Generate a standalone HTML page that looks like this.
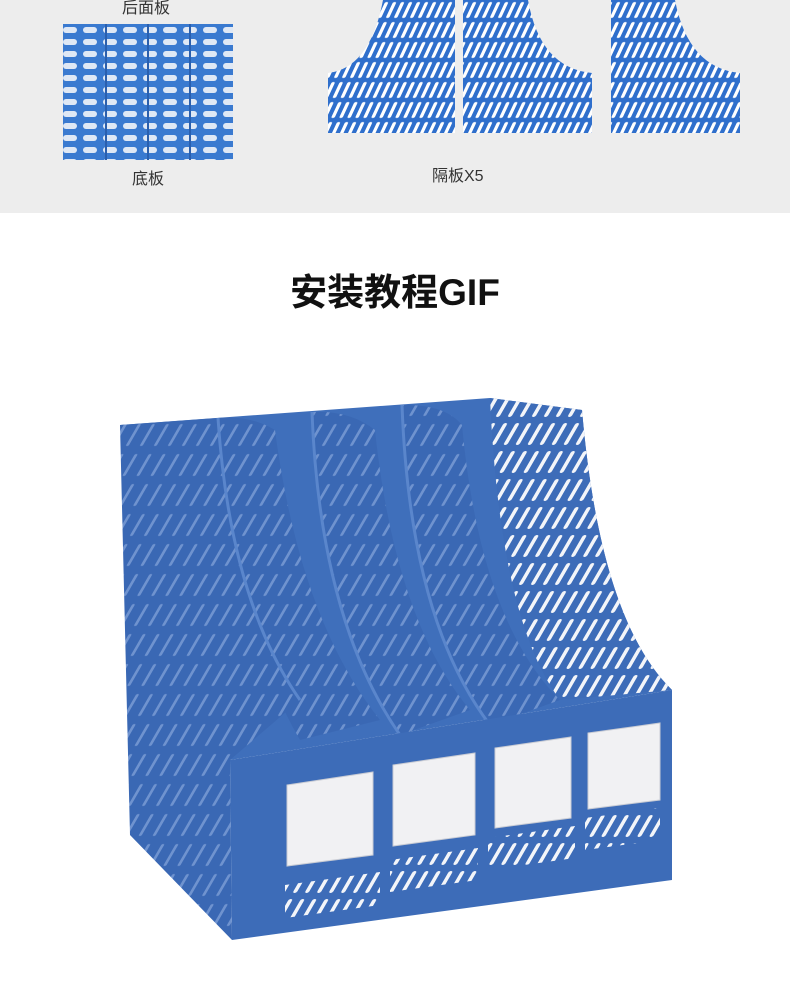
<!DOCTYPE html>
<html><head><meta charset="utf-8"><style>
body{margin:0;width:790px;height:988px;overflow:hidden;background:#fff;font-family:"Liberation Sans","Noto Sans CJK SC",sans-serif;position:relative}
.top{position:absolute;left:0;top:0;width:790px;height:213px;background:#ededed}
.lbl{position:absolute;font-size:16px;color:#333}
h1{position:absolute;left:0;width:790px;top:262px;margin:0;text-align:center;font-size:37px;font-weight:700;color:#111}
svg{position:absolute;left:0;top:0}
</style></head><body>
<div class="top"></div>
<svg width="790" height="988">
<defs>
<pattern id="sl" width="8" height="20" patternUnits="userSpaceOnUse" patternTransform="skewX(-25)">
<rect width="8" height="20" fill="#2f6fcc"/><rect x="2" y="2" width="3.5" height="16" rx="1.7" fill="#fff"/></pattern>
<pattern id="ov" width="20" height="12" patternUnits="userSpaceOnUse">
<rect width="20" height="12" fill="#3a7ad0"/><rect x="3" y="3" width="14" height="6" rx="3" fill="#dfe8f5"/></pattern>
<pattern id="bs" width="12" height="28" patternUnits="userSpaceOnUse" patternTransform="skewX(-30)">
<rect width="12" height="28" fill="#3d6cb8"/><rect x="4" y="3" width="4" height="22" rx="2" fill="#f3f5f9"/></pattern>
<pattern id="bs2" width="14" height="30" patternUnits="userSpaceOnUse" patternTransform="skewX(-30)">
<rect width="14" height="30" fill="#3a68b4"/><rect x="5" y="4" width="3" height="22" rx="1.5" fill="#6f93cf"/></pattern>
</defs>
<rect x="63" y="24" width="170" height="136" fill="url(#ov)"/>
<g stroke="#2a5fae" stroke-width="2"><line x1="106" y1="24" x2="106" y2="160"/><line x1="148" y1="24" x2="148" y2="160"/><line x1="190" y1="24" x2="190" y2="160"/></g>
<path d="M383 0 L455 0 L455 133 L328 133 L328 73 Q370 68 383 0Z" fill="url(#sl)"/>
<path d="M463 0 L528 0 Q540 68 592 73 L592 133 L463 133Z" fill="url(#sl)"/>
<path d="M611 0 L675 0 Q688 68 740 73 L740 133 L611 133Z" fill="url(#sl)"/>
<!-- organizer -->
<path d="M120 425 L490 398 L582 410 Q600 620 672 690 L230 760 Z" fill="#3f6fbb"/>
<path d="M490 398 L582 410 Q600 620 672 690 L560 700 Q500 620 490 398Z" fill="url(#bs)"/>
<path d="M120 425 L218 418 Q230 600 300 700 L230 760 L232 940 L130 835Z" fill="url(#bs2)"/>
<path d="M218 418 Q250 415 275 430 Q300 620 380 720 L300 740 Q230 620 218 418Z" fill="url(#bs2)"/>
<path d="M312 412 Q350 410 375 430 Q395 620 470 710 L400 735 Q320 620 312 412Z" fill="url(#bs2)"/>
<path d="M402 405 Q445 404 462 425 Q480 620 560 700 L490 725 Q410 620 402 405Z" fill="url(#bs2)"/>
<g stroke="#5a86cc" stroke-width="3" fill="none">
<path d="M218 418 Q230 600 300 700"/><path d="M312 412 Q320 620 400 735"/><path d="M402 405 Q410 620 490 725"/></g>
<path d="M230 760 L672 690 L672 880 L232 940Z" fill="#3d6cb8"/>
<path d="M285 885 L380 872 L380 905 L285 918Z" fill="url(#bs)"/>
<path d="M390 860 L478 848 L478 880 L390 892Z" fill="url(#bs)"/>
<path d="M488 838 L575 826 L575 858 L488 870Z" fill="url(#bs)"/>
<path d="M585 818 L660 808 L660 840 L585 850Z" fill="url(#bs)"/>
<g fill="#f1f1f3" stroke="#c9ccd4">
<path d="M287 785 L373 772 L373 855 L287 866Z"/>
<path d="M393 765 L475 753 L475 835 L393 846Z"/>
<path d="M495 748 L571 737 L571 818 L495 828Z"/>
<path d="M588 733 L660 723 L660 800 L588 809Z"/></g>
</svg>
<div class="lbl" style="left:122px;top:-6px">后面板</div>
<div class="lbl" style="left:132px;top:165px">底板</div>
<div class="lbl" style="left:432px;top:162px">隔板X5</div>
<h1>安装教程GIF</h1>
</body></html>
